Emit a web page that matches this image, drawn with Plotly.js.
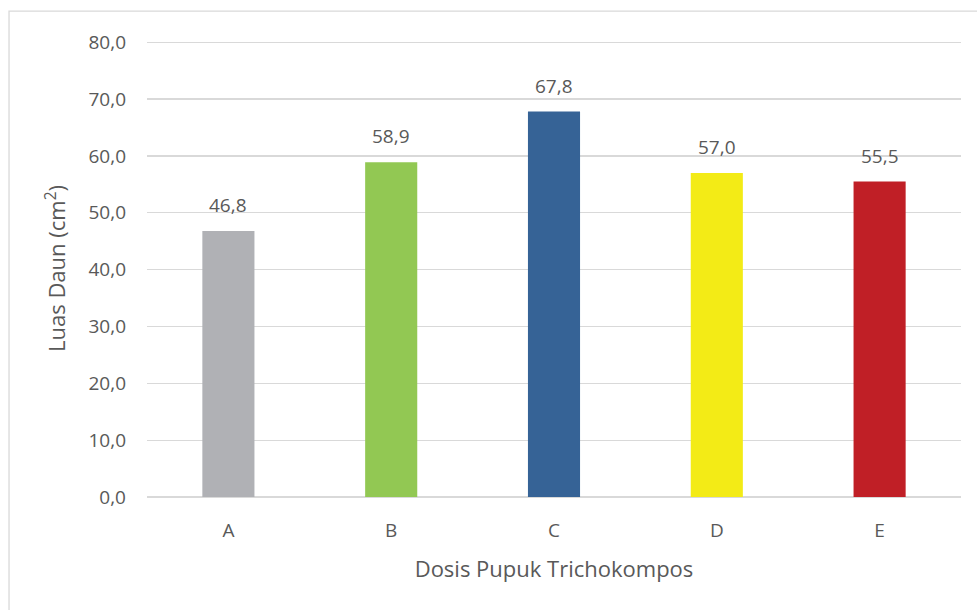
<!DOCTYPE html>
<html><head><meta charset="utf-8">
<script src="https://cdn.plot.ly/plotly-3.0.1.min.js"></script>
<style>html,body{margin:0;padding:0;background:#fff;}#chart{width:977px;height:610px;}</style>
</head><body><div id="chart"></div>
<script>
const categories = ['A', 'B', 'C', 'D', 'E'];
const values = [46.8, 58.9, 67.8, 57.0, 55.5];
const barColors = ['#b0b1b5', '#92c853', '#366396', '#f3eb16', '#c01f26'];
const yTicks = [0, 10, 20, 30, 40, 50, 60, 70, 80];

const font = 'Open Sans, Noto Sans, sans-serif';
const grey = '#595959';
const trace = {
  type: 'bar', x: categories, y: values,
  marker: {color: barColors},
  hoverinfo: 'none'
};
const fmt = v => v.toFixed(1).replace('.', ',');
const annotations = categories.map((c, i) => ({
  x: c, y: values[i], xref: 'x', yref: 'y',
  text: fmt(values[i]), showarrow: false,
  yanchor: 'middle', yshift: 26,
  font: {family: font, size: 19, color: grey}
}));
const layout = {
  width: 977, height: 610,
  margin: {l: 147, r: 16, t: 40, b: 113},
  separators: ',.',
  paper_bgcolor: '#fff', plot_bgcolor: '#fff',
  bargap: 0.68,
  showlegend: false,
  font: {family: font, color: grey},
  xaxis: {
    showgrid: false, showline: false, zeroline: false,
    tickfont: {size: 19, color: grey}, ticks: '', ticklabelstandoff: 20,
    title: {text: 'Dosis Pupuk Trichokompos', font: {size: 22, color: grey}, standoff: 19}
  },
  yaxis: {
    range: [0, 80.4], tickvals: yTicks, tickformat: '.1f',
    showgrid: true, gridcolor: '#d9d9d9', gridwidth: 1.3,
    zeroline: true, zerolinecolor: '#d9d9d9', zerolinewidth: 1.3,
    showline: false, ticks: '', ticklen: 0, ticklabelstandoff: 20,
    tickfont: {size: 19, color: grey},
    title: {text: 'Luas Daun (cm<sup>2</sup>)', font: {size: 22, color: grey}, standoff: 16}
  },
  annotations: annotations,
  shapes: [{
    type: 'rect', xref: 'paper', yref: 'paper',
    x0: -0.1695, x1: 1.03, y0: -0.27, y1: 1.063,
    line: {color: '#d9d9d9', width: 1.3}, fillcolor: 'rgba(0,0,0,0)', layer: 'below'
  }]
};
Plotly.newPlot('chart', [trace], layout, {staticPlot: true});
</script></body></html>
